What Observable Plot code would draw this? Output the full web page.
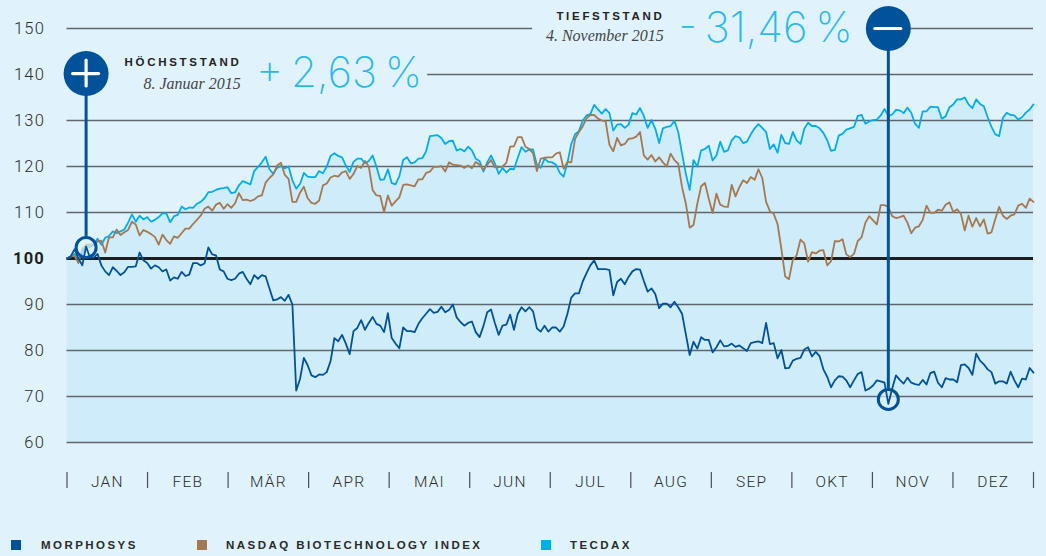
<!DOCTYPE html>
<html lang="de">
<head>
<meta charset="utf-8">
<script src="https://cdn.jsdelivr.net/npm/d3@7"></script>
<script src="https://cdn.jsdelivr.net/npm/@observablehq/plot@0.6"></script>
<style>
html,body{margin:0;padding:0;background:#e0f3fc;width:1046px;height:556px;overflow:hidden}
svg{display:block}
.ax text{letter-spacing:1.2px}
.hd text{letter-spacing:2.7px}
.big text{letter-spacing:0;word-spacing:-4px}
#legend{position:absolute;left:0;top:530px;width:1046px;height:26px;font:700 11.5px "Liberation Sans",sans-serif;letter-spacing:2.45px;color:#2a2a2a}
#legend span{position:absolute;top:9px;white-space:nowrap}
#legend i{position:absolute;top:10px;width:10px;height:10px}
</style>
</head>
<body>
<div id="chart"></div>
<div id="legend"></div>
<script>
const months = ["JAN","FEB","MÄR","APR","MAI","JUN","JUL","AUG","SEP","OKT","NOV","DEZ"];
const gridValues = [60,70,80,90,110,120,130];
const seriesNames = ["MORPHOSYS","NASDAQ BIOTECHNOLOGY INDEX","TECDAX"];
const seriesColors = ["#00529b","#a5784e","#00aeef"];

const morphosys = [100,100.5,102,100,98.5,102.6,100.2,100.2,101,98.5,97.2,96.4,98.1,97.3,96.4,97,98.2,98.2,98.3,101.3,99.6,
99,97.8,98.5,98.1,97.2,97.6,95.2,95.9,95.6,97.1,96.2,96.5,99,99,98.5,98.9,102.4,100.9,100.7,97.6,97.2,
95.6,95.3,95.6,96.7,97.1,95.6,94.4,96.4,95.6,96.4,96.1,93.5,90.9,91.1,91.6,90.8,92.1,90,71.3,73.8,78.4,
76.8,74.6,74.2,74.8,74.7,75.3,77.7,82.7,82,83.4,81.5,79.2,84.2,84.9,86.6,84.5,86,87.3,85.8,85.4,84,
88.1,82.7,81.5,80.5,85,84.2,84.2,84,85.8,87,88,89,88.2,88.4,89.5,88.3,88.8,90,87.2,86.2,85.4,
86,86.3,84,82.9,85.3,88.3,88.9,86,83.4,85.4,85.6,87.8,84.5,88,89.4,88.5,89.4,88.5,84.8,84.1,85.4,
84.1,85,85,84.1,85.2,88,91.5,92.4,92.4,95,96.8,98.5,99.6,97.7,97.7,97.7,97.5,92,94.9,95.6,94.4,96,
97.2,97.7,97.6,95.1,92.8,93.5,92.3,89.2,90.2,90.2,89.4,90.6,89.4,88,83.5,79,81.9,80.4,82.9,82.3,82.3,
79.6,80.7,82.2,80.9,81,81.5,80.8,81.1,80.5,79.9,81.6,81.8,82,81.6,86,81.4,81.6,78.3,80.1,76.1,76.2,77.8,
78.2,78.4,80.2,80.7,78.7,79.7,78.8,75.9,74.3,72,73.5,74.4,74.3,73.5,72,73.5,74.9,75.3,71.3,71.7,72.4,
73.5,73.3,73,68.4,71.7,74.6,73.6,72.8,74.1,73,72.7,72.5,73.6,72.6,75.1,75.4,73,72,74,73.7,73.7,73.1,
76.8,77,76.2,74.7,79.3,77.8,77,75.9,75.3,72.8,73.3,73.3,72.8,75.4,73.5,72,73.9,73.7,76.2,75.2];

const nasdaq = [100,100.5,100.5,99,102,103,103,103,103.7,103.9,101.3,104.6,104.6,106.3,105.1,105.7,106.2,108,107.4,105,106.2,
105.8,105.3,104.7,103,105.2,104,103.2,104.8,104.5,105.5,106.5,106.5,107.5,108.4,109.3,110.8,111.3,110.4,111.7,112.1,110.8,
111.8,111,112,114.2,112.7,112.8,112.5,112.8,113.5,113.7,116.5,117.5,118.3,120.2,120.8,118.2,117.3,112.3,112.3,114.3,115.6,
113.1,112.1,111.9,112.6,115.9,116.3,117.6,118,117.8,118.7,119,117.3,118.4,120.1,119.7,121.2,120,114.9,113.7,113.6,110.1,
113.7,111.5,112.4,113.3,116,116.1,115.9,115.7,117.2,117.2,118.6,118.9,119.9,119.9,120.1,118.9,120.9,120.4,120.3,120.2,119.7,
120.2,119.6,121,120.4,119.3,120.4,121.4,119.8,119.8,120,120.8,124.3,124.4,126.4,126.4,124.3,123.8,122.9,119,121.7,121.9,
122,122,122.8,123.1,119.5,121,120.9,126,127.5,128.7,130.5,131.2,131.2,130.4,130,129.8,124.7,123.3,126.2,124.6,124.9,126,
126.1,126.5,127.5,122.4,121.5,122.5,121.1,122,120.9,120,122.8,121.4,120.6,115.5,111.9,106.7,107.3,111.9,115.7,116.4,113,
109.9,114.1,111.7,111.3,111.2,116,113.5,115.5,117,116.4,117.7,117.1,119.4,117.5,112.3,110.3,109.7,107.5,102.1,96.1,95.5,99.7,
100.7,104.1,103.3,99.3,101.4,101.1,101.7,101.8,98.5,99.4,103.8,103.7,104.2,100.9,100.3,101,103.8,104.6,107.8,109.2,108.3,
107.4,111.6,111.6,111.2,109.2,108.8,109,109.3,107.8,105.5,106.7,107,108.4,111.5,109.9,109.9,110.6,110.4,111.7,112.2,110.1,110.7,
109.7,106.1,109.3,106.9,108.8,107,108.5,105.4,105.7,108.6,111.2,109.3,108.6,109.3,109.6,111.5,111.9,111,113,112.3];

const tecdax = [100,100.4,101,100,101,102.8,102.5,103,104.3,103,104.5,104.9,105.9,105.5,105.9,106.3,107.8,109.6,108,109.3,108.5,
109,108,108.4,109,109.8,109.8,107.9,109.2,109.5,111.3,110.7,111.1,111,111.9,112.3,113.1,114.4,114.5,114.9,115.2,115.3,
115.5,114.2,114.4,115.9,116.8,116.5,116.1,119,119.9,120.9,122.1,119.4,118.4,119.7,120.1,119.6,120,117,115.2,116.2,118.6,
117.8,117.7,117.7,119,118.5,120,122.3,122.9,122.3,122,120.2,118.8,121,121.7,121.7,120.7,121.2,122.4,120,117.1,117.2,
119.4,116.4,116.1,117.9,121.4,122,120.7,120.9,121.7,121.8,123.3,126.6,126.7,126.8,126.2,124.9,125.5,125.6,123.5,123.8,123.3,
124.3,123.5,121.7,121.2,118.9,120.9,122.4,120.7,118.4,119.7,118.7,119.5,119.4,121.9,124.2,123.2,123.7,123.7,120.4,119.7,121.7,
121,120.9,120.4,118.6,117.8,120.8,124.9,127,127.7,130,131.1,131.4,133.4,132.4,131.5,132.5,131.6,127.8,129.1,129.2,128.4,129.1,
131.6,131.3,132.7,131,128.4,130.1,128.2,125.1,128.3,128.6,128.8,129.9,127.5,122.8,118.4,114.9,121.4,120,123.5,123.8,124.5,
121.3,122.4,125.4,123.2,123.5,125.7,126.6,126.3,125.1,125.4,127,128.3,129.2,128.4,127.5,123.8,124.8,123,126.9,125.1,124.9,127.5,
125.7,124.9,128.2,129.5,128.8,128.8,128.3,127.3,125.7,123.4,123.6,126.7,127.1,128,128.3,128.6,131,131.2,129.3,129.8,130.1,
130.2,131.1,132.5,131,131.3,132.3,132.2,131.6,132.8,131.7,129.3,128.4,132,132,133,132.9,132.9,130.4,130.9,132.9,133.5,134.6,
134.6,135,133.5,132.7,134.6,133.6,133.1,130.7,128.6,127,126.6,130.6,131.7,131.2,131.1,130.2,130.7,131.7,132.4,133.5];

const lastDay = 253;
const monthLen = lastDay / 12;
const monthEdges = d3.range(13).map(i => i * monthLen);
const monthMids = months.map((m, i) => (i + 0.5) * monthLen);
const rows = (arr) => arr.map((v, i) => ({d: i, v}));
const byMid = new Map(monthMids.map((m, i) => [m, months[i]]));

// gridline pieces with gaps for the annotation blocks
const gridTop = [
  {v:150, a:0, b:121.9},
  {v:150, a:220.9, b:lastDay},
  {v:140, a:94.4, b:lastDay}
];

const highDay = 5, lowDay = 215;
const highMark = 102.4, lowMark = 69.35;
const highBadge = 140.2, lowBadge = 150;
const ink = "#2b2b2b";
const blue = seriesColors[0];
const cyan = "#27b9f2";
const sans = "'Liberation Sans',sans-serif";
const serif = "'Liberation Serif',serif";
const thin = "Inter,Lato,sans-serif";

const plot = Plot.plot({
  width: 1046, height: 530,
  marginLeft: 66.5, marginRight: 13, marginTop: 28, marginBottom: 88,
  style: {background: "transparent", overflow: "visible"},
  x: {domain: [0, lastDay], axis: null},
  y: {domain: [60, 150], axis: null},
  marks: [
    Plot.areaY(rows(tecdax), {x: "d", y1: () => 60, y2: "v", fill: "#cfecfb"}),
    Plot.ruleY(gridValues, {stroke: "#60666b", strokeWidth: 1.5}),
    Plot.ruleY(gridTop, {y: "v", x1: "a", x2: "b", stroke: "#60666b", strokeWidth: 1.5}),
    Plot.ruleY([100], {stroke: "#1e1e1e", strokeWidth: 3}),
    Plot.axisY(gridValues.concat([140, 150]), {anchor: "left", tickSize: 0, tickPadding: 22, fontSize: 16.5, fontFamily: "Roboto,sans-serif", fontWeight: 300, fill: ink, label: null, className: "ax"}),
    Plot.axisY([100], {anchor: "left", tickSize: 0, tickPadding: 22, fontSize: 16.5, fontFamily: "Roboto,sans-serif", fontWeight: 700, fill: "#1e1e1e", label: null, className: "ax"}),
    Plot.axisX(monthMids, {anchor: "bottom", tickSize: 0, tickPadding: 33, tickFormat: d => byMid.get(d), fontSize: 15.5, fontFamily: "Roboto,sans-serif", fontWeight: 300, fill: ink, label: null, className: "ax"}),
    Plot.ruleX(monthEdges, {y1: 53.5, y2: 50, stroke: "#4a4f53", strokeWidth: 1.2}),
    Plot.lineY(rows(tecdax), {x: "d", y: "v", stroke: seriesColors[2], strokeWidth: 1.8}),
    Plot.lineY(rows(nasdaq), {x: "d", y: "v", stroke: seriesColors[1], strokeWidth: 1.8}),
    Plot.dot([{d: highDay, v: highMark}, {d: lowDay, v: lowMark}], {x: "d", y: "v", r: 10, fill: "#e0f3fc", fillOpacity: 0.65}),
    Plot.lineY(rows(morphosys), {x: "d", y: "v", stroke: seriesColors[0], strokeWidth: 1.8}),
    Plot.dot([{d: highDay, v: highMark}, {d: lowDay, v: lowMark}], {x: "d", y: "v", r: 10, stroke: blue, strokeWidth: 3}),
    Plot.ruleX([{d: highDay, a: highMark + 2.2, b: highBadge}, {d: lowDay, a: lowMark + 2.2, b: lowBadge}], {x: "d", y1: "a", y2: "b", stroke: blue, strokeWidth: 3}),
    Plot.dot([{d: highDay, v: highBadge}, {d: lowDay, v: lowBadge}], {x: "d", y: "v", r: 22.5, fill: blue}),
    Plot.ruleY([{d: highDay, v: highBadge}, {d: lowDay, v: lowBadge}], {y: "v", x1: d => d.d - 3.4, x2: d => d.d + 3.4, stroke: "white", strokeWidth: 3.2, strokeLinecap: "round"}),
    Plot.ruleX([{d: highDay, v: highBadge}], {x: "d", y1: d => d.v - 2.8, y2: d => d.v + 2.8, stroke: "white", strokeWidth: 3.2, strokeLinecap: "round"}),
    Plot.text([{d: 45.7, v: 142.6, t: "HÖCHSTSTAND"}, {d: 156.4, v: 152.6, t: "TIEFSTSTAND"}], {x: "d", y: "v", text: "t", textAnchor: "end", fontSize: 11.5, fontWeight: 700, fontFamily: sans, fill: "#222", className: "hd"}),
    Plot.text([{d: 45.5, v: 138, t: "8. Januar 2015"}, {d: 156.2, v: 148.3, t: "4. November 2015"}], {x: "d", y: "v", text: "t", textAnchor: "end", fontSize: 16, fontStyle: "italic", fontFamily: serif, fill: "#444"}),
    Plot.text([{d: 49.5, v: 140.2, t: "+ 2,63 %"}, {d: 160, v: 150, t: "- 31,46 %"}], {x: "d", y: "v", text: "t", textAnchor: "start", fontSize: 42, fontWeight: 200, fontFamily: thin, fill: cyan, className: "big"})
  ]
});
document.getElementById("chart").append(plot);

const legendX = [[11, 41], [197, 226], [541, 570]];
const legend = document.getElementById("legend");
seriesNames.forEach((name, i) => {
  const sq = document.createElement("i");
  sq.style.left = legendX[i][0] + "px";
  sq.style.background = seriesColors[i];
  const sp = document.createElement("span");
  sp.style.left = legendX[i][1] + "px";
  sp.textContent = name;
  legend.append(sq, sp);
});
</script>
</body>
</html>
